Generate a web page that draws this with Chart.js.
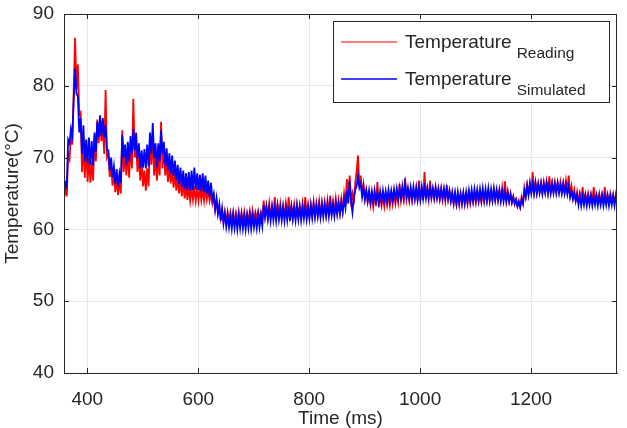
<!DOCTYPE html>
<html>
<head>
<meta charset="utf-8">
<script src="https://cdn.jsdelivr.net/npm/chart.js@4"></script>
<style>
  html, body { margin: 0; padding: 0; background: #fff; }
  #wrap { width: 627px; height: 428px; position: relative; }
</style>
</head>
<body>
<div id="wrap"><canvas id="chart"></canvas></div>
<script>
// sample grid: one reading every 2.5 ms, starting at 358 ms (10 samples per row)
const tStart = 358;
const tStep = 2.5;

const reading = [
  64.3, 65.8, 64.6, 70.5, 69.8, 73.2, 71.8, 79.5, 86.7, 79.5,
  83.0, 76.0, 76.3, 68.0, 72.0, 67.2, 71.5, 66.6, 70.0, 66.5,
  69.5, 66.8, 73.0, 69.5, 75.3, 72.0, 75.5, 72.3, 74.5, 70.5,
  79.4, 70.0, 70.5, 67.3, 68.8, 66.1, 68.0, 65.2, 67.0, 64.8,
  66.8, 65.0, 73.8, 68.0, 70.5, 67.5, 71.0, 67.2, 72.0, 68.5,
  78.2, 70.0, 72.0, 68.0, 70.5, 66.8, 69.5, 66.0, 68.2, 65.4,
  68.5, 66.0, 72.5, 69.0, 73.0, 67.5, 70.5, 66.8, 70.0, 67.5,
  75.0, 68.5, 71.5, 67.5, 69.5, 66.6, 68.8, 66.4, 68.3, 65.8,
  67.8, 65.4, 67.3, 65.0, 66.8, 64.6, 66.6, 64.3, 66.4, 64.1,
  65.9, 64.0, 65.8, 64.1, 66.0, 64.0, 65.7, 64.0, 65.8, 64.1,
  65.6, 64.0, 65.9, 64.2, 65.5, 64.0, 65.0, 63.6, 64.5, 62.8,
  64.0, 62.3, 63.3, 61.5, 62.6, 61.2, 62.5, 61.0, 62.4, 61.0,
  62.3, 61.0, 62.4, 60.9, 62.2, 61.1, 62.5, 61.0, 62.3, 60.9,
  62.4, 61.0, 62.2, 61.2, 62.5, 61.0, 62.6, 61.3, 62.4, 61.5,
  62.5, 61.4, 62.4, 61.6, 64.0, 61.9, 63.3, 61.7, 63.6, 61.8,
  63.2, 61.7, 64.5, 61.9, 63.4, 61.8, 63.5, 61.7, 63.2, 61.9,
  63.6, 61.8, 64.5, 61.9, 63.3, 61.7, 63.4, 61.8, 63.5, 61.9,
  63.3, 61.8, 63.6, 61.9, 64.5, 62.0, 63.4, 61.8, 63.5, 62.0,
  63.8, 62.0, 63.6, 62.1, 63.9, 62.0, 63.7, 62.2, 63.8, 62.1,
  64.0, 62.2, 64.7, 62.3, 63.9, 62.2, 64.2, 62.4, 64.0, 62.3,
  64.2, 62.6, 65.0, 63.5, 67.0, 64.5, 67.5, 64.0, 65.0, 63.5,
  66.5, 68.0, 70.3, 66.0, 67.5, 64.8, 66.3, 64.2, 65.4, 63.8,
  65.0, 63.4, 64.7, 63.2, 64.8, 63.3, 66.6, 63.1, 64.7, 63.3,
  64.6, 63.2, 64.8, 63.4, 64.7, 63.3, 64.9, 63.5, 65.0, 63.6,
  65.0, 63.8, 66.3, 64.0, 65.2, 64.1, 67.1, 64.2, 65.4, 64.0,
  65.6, 64.1, 65.5, 64.2, 65.8, 64.0, 66.8, 64.2, 65.5, 64.1,
  68.0, 64.3, 65.7, 64.2, 66.8, 64.4, 65.6, 64.3, 65.8, 64.4,
  65.5, 64.2, 65.7, 64.1, 65.4, 64.0, 66.2, 64.2, 65.3, 63.9,
  64.9, 63.6, 65.0, 63.5, 64.8, 63.4, 64.9, 63.6, 65.0, 63.5,
  64.8, 63.6, 65.6, 63.7, 65.0, 63.8, 64.9, 63.7, 65.1, 63.9,
  65.0, 63.8, 65.2, 64.0, 65.1, 63.9, 65.3, 64.1, 65.2, 64.0,
  65.4, 64.1, 65.3, 64.2, 65.5, 64.0, 65.8, 64.1, 66.7, 64.0,
  65.3, 63.9, 65.0, 63.7, 64.6, 63.5, 64.2, 63.3, 64.0, 63.1,
  64.5, 63.6, 65.8, 64.6, 66.2, 64.9, 66.5, 65.0, 68.0, 65.2,
  66.6, 65.1, 66.4, 65.2, 66.5, 65.1, 66.6, 65.3, 66.7, 65.2,
  67.4, 65.3, 66.5, 65.2, 66.6, 65.4, 66.5, 65.2, 66.6, 65.3,
  66.5, 65.2, 66.8, 65.3, 67.5, 64.8, 66.0, 64.4, 65.5, 64.0,
  65.2, 63.9, 65.0, 63.8, 65.9, 63.9, 64.9, 63.8, 65.0, 63.9,
  64.9, 63.8, 65.9, 64.0, 64.8, 63.9, 65.0, 63.8, 64.9, 63.9,
  65.9, 63.9, 64.8, 63.8, 65.0, 63.9, 64.8, 63.8, 64.9, 63.9
];

const simulated = [
  65.1, 66.5, 66.0, 72.5, 72.0, 74.0, 73.0, 78.0, 82.4, 79.0,
  78.5, 73.5, 75.5, 70.5, 74.5, 69.5, 72.5, 69.2, 72.8, 69.0,
  72.3, 68.9, 73.5, 70.8, 75.0, 72.8, 75.9, 73.0, 75.5, 72.8,
  74.5, 71.0, 71.0, 68.2, 70.0, 67.3, 68.8, 66.3, 68.4, 66.0,
  67.8, 66.5, 73.1, 70.0, 71.8, 69.0, 72.2, 69.5, 73.0, 70.5,
  74.0, 71.0, 73.5, 69.8, 72.0, 68.6, 71.0, 68.6, 71.2, 68.5,
  71.8, 68.8, 73.5, 70.5, 74.8, 70.0, 72.0, 68.6, 72.0, 69.5,
  73.8, 70.5, 72.2, 68.8, 71.3, 68.3, 70.6, 67.8, 70.3, 67.4,
  69.6, 66.9, 69.0, 66.3, 68.6, 65.9, 68.2, 65.6, 67.8, 65.5,
  68.0, 65.4, 68.2, 65.5, 68.6, 65.6, 67.8, 65.5, 67.6, 65.3,
  67.8, 65.2, 67.5, 65.0, 66.8, 64.6, 66.5, 64.2, 65.0, 62.8,
  64.3, 62.2, 63.5, 61.2, 62.9, 60.8, 62.2, 60.4, 62.0, 60.3,
  61.9, 60.1, 62.0, 60.2, 61.8, 60.0, 61.9, 60.2, 62.0, 60.1,
  61.8, 60.0, 61.9, 60.2, 62.0, 60.1, 61.9, 60.3, 61.8, 60.2,
  62.0, 60.3, 61.9, 60.5, 63.4, 61.7, 63.1, 61.4, 63.0, 61.2,
  63.1, 61.3, 63.0, 61.2, 63.2, 61.4, 63.0, 61.3, 63.1, 61.2,
  63.0, 61.3, 63.2, 61.2, 63.1, 61.4, 63.0, 61.3, 63.2, 61.4,
  63.1, 61.3, 63.0, 61.5, 63.2, 61.4, 63.1, 61.5, 63.3, 61.6,
  63.4, 61.7, 63.3, 61.8, 63.4, 61.7, 63.5, 61.8, 63.4, 61.9,
  63.5, 61.8, 63.6, 62.0, 63.5, 61.9, 63.7, 62.1, 63.6, 62.2,
  63.8, 62.4, 64.2, 63.0, 65.4, 63.6, 66.8, 64.0, 62.4, 64.5,
  65.5, 66.0, 67.5, 65.8, 66.4, 64.5, 65.8, 64.2, 65.4, 64.0,
  65.4, 63.9, 65.3, 63.8, 65.4, 63.9, 65.2, 63.8, 65.3, 63.9,
  65.4, 64.0, 65.3, 63.9, 65.5, 64.0, 65.4, 64.1, 65.6, 64.2,
  65.7, 64.3, 65.8, 64.4, 66.0, 64.5, 66.4, 64.6, 65.8, 64.3,
  65.8, 64.2, 65.9, 64.3, 65.7, 64.1, 65.8, 64.2, 65.9, 64.3,
  65.8, 64.3, 65.7, 64.4, 65.8, 64.5, 65.7, 64.4, 65.8, 64.4,
  65.7, 64.3, 65.6, 64.4, 65.7, 64.3, 65.6, 64.2, 65.4, 64.0,
  65.2, 63.7, 65.1, 63.6, 65.2, 63.7, 65.0, 63.6, 65.1, 63.7,
  65.2, 63.8, 65.4, 63.9, 65.5, 64.0, 65.6, 64.1, 65.5, 64.0,
  65.6, 64.1, 65.7, 64.0, 65.6, 64.1, 65.7, 64.0, 65.6, 64.1,
  65.7, 64.1, 65.5, 64.0, 65.4, 64.0, 65.3, 63.9, 65.2, 63.9,
  65.1, 63.9, 64.9, 63.8, 64.5, 63.6, 64.1, 63.2, 63.8, 63.1,
  64.2, 63.6, 65.4, 64.5, 66.1, 64.8, 66.3, 65.0, 66.4, 65.0,
  66.4, 65.0, 66.3, 65.1, 66.4, 65.0, 66.3, 65.1, 66.4, 65.0,
  66.3, 65.0, 66.4, 65.1, 66.3, 65.0, 66.4, 65.1, 66.2, 65.0,
  66.3, 65.0, 66.2, 64.9, 66.0, 64.5, 65.3, 64.2, 65.0, 64.0,
  64.8, 63.4, 64.7, 63.3, 64.6, 63.4, 64.7, 63.3, 64.6, 63.4,
  64.7, 63.3, 64.6, 63.4, 64.7, 63.3, 64.6, 63.4, 64.7, 63.3,
  64.6, 63.4, 64.7, 63.3, 64.6, 63.4, 64.7, 63.3, 64.6, 63.4
];

const xTicks = [400, 600, 800, 1000, 1200];
const yTicks = [40, 50, 60, 70, 80, 90];
const legendNames = [['Temperature', 'Reading'], ['Temperature', 'Simulated']];
const colors = ['#ff0000', '#0000ff'];

const FONT = "'Liberation Sans', Arial, sans-serif";
const INK = '#262626';

const toPoints = arr => arr.map((v, i) => ({ x: tStart + i * tStep, y: v }));

// box, inward ticks and the legend with subscripts
const matlabBox = {
  id: 'matlabBox',
  afterDatasetsDraw(chart) {
    const { ctx, chartArea: a, scales } = chart;
    ctx.save();
    ctx.strokeStyle = INK;
    ctx.lineWidth = 1;
    ctx.strokeRect(a.left + 0.5, a.top + 0.5, a.right - a.left - 1, a.bottom - a.top);
    ctx.beginPath();
    xTicks.forEach(v => {
      const x = Math.round(scales.x.getPixelForValue(v)) + 0.5;
      ctx.moveTo(x, a.bottom); ctx.lineTo(x, a.bottom - 5);
      ctx.moveTo(x, a.top); ctx.lineTo(x, a.top + 5);
    });
    yTicks.forEach(v => {
      const y = Math.round(scales.y.getPixelForValue(v)) + 0.5;
      ctx.moveTo(a.left, y); ctx.lineTo(a.left + 5, y);
      ctx.moveTo(a.right, y); ctx.lineTo(a.right - 5, y);
    });
    ctx.stroke();

    // legend
    const bx = a.right - 284, by = a.top + 7, bw = 276, bh = 81;
    ctx.fillStyle = '#fff';
    ctx.fillRect(bx, by, bw, bh);
    ctx.strokeRect(bx + 0.5, by + 0.5, bw, bh);
    const rows = [21, 58];
    legendNames.forEach((name, i) => {
      const ly = by + rows[i];
      ctx.strokeStyle = colors[i];
      ctx.lineWidth = i === 0 ? 1.2 : 1.6;
      ctx.beginPath();
      ctx.moveTo(bx + 8, ly); ctx.lineTo(bx + 64, ly);
      ctx.stroke();
      ctx.fillStyle = INK;
      ctx.textBaseline = 'alphabetic';
      ctx.textAlign = 'left';
      ctx.font = '19px ' + FONT;
      ctx.fillText(name[0], bx + 72, ly + 6);
      const w = ctx.measureText(name[0]).width;
      ctx.font = '15.5px ' + FONT;
      ctx.fillText(name[1], bx + 72 + w + 5, ly + 16);
    });
    ctx.restore();
  }
};

const ctx = document.getElementById('chart').getContext('2d');

new Chart(ctx, {
  type: 'line',
  data: {
    datasets: [
      {
        label: 'Temperature Reading',
        data: toPoints(reading),
        borderColor: colors[0],
        borderWidth: 1.8,
        pointRadius: 0,
        tension: 0,
        order: 2
      },
      {
        label: 'Temperature Simulated',
        data: toPoints(simulated),
        borderColor: colors[1],
        borderWidth: 1.8,
        pointRadius: 0,
        tension: 0,
        order: 1
      }
    ]
  },
  options: {
    responsive: true,
    maintainAspectRatio: false,
    animation: false,
    layout: { padding: { top: 14, right: 10, left: 0, bottom: 0 } },
    plugins: {
      legend: { display: false },
      tooltip: { enabled: false }
    },
    scales: {
      x: {
        type: 'linear',
        min: 358,
        max: 1355,
        afterBuildTicks: axis => { axis.ticks = xTicks.map(v => ({ value: v })); },
        afterFit: axis => {
          axis.height = 55;
          axis.paddingLeft = 0;
          axis.paddingRight = 0;
        },
        ticks: { color: INK, font: { family: FONT, size: 19 }, padding: 15, callback: v => String(v) },
        grid: { color: '#e6e6e6', drawTicks: false },
        border: { color: INK },
        title: {
          display: true,
          text: 'Time (ms)',
          color: INK,
          font: { family: FONT, size: 19, lineHeight: 1 },
          padding: 0
        }
      },
      y: {
        min: 40,
        max: 90,
        afterBuildTicks: axis => { axis.ticks = yTicks.map(v => ({ value: v })); },
        afterFit: axis => {
          axis.width = 64;
          axis.paddingTop = 0;
          axis.paddingBottom = 0;
        },
        ticks: { color: INK, font: { family: FONT, size: 19 }, padding: 10, callback: v => String(v) },
        grid: { color: '#e6e6e6', drawTicks: false },
        border: { color: INK },
        title: {
          display: true,
          text: 'Temperature(°C)',
          color: INK,
          font: { family: FONT, size: 19, lineHeight: 1 },
          padding: { top: 3, bottom: 0 }
        }
      }
    }
  },
  plugins: [matlabBox]
});
</script>
</body>
</html>
